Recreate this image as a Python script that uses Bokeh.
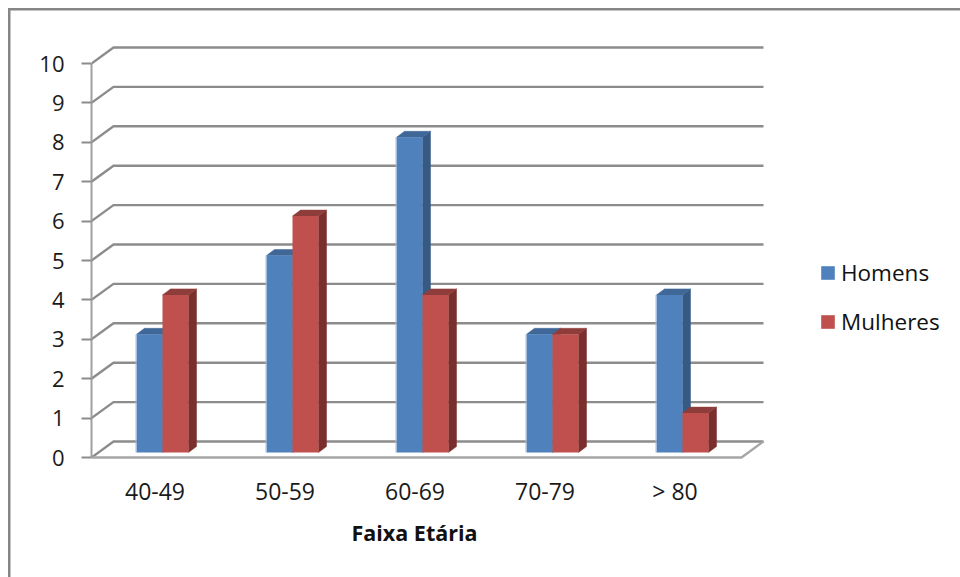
from bokeh.embed import file_html
from bokeh.models import FixedTicker, Legend, LegendItem, Title
from bokeh.plotting import figure
from bokeh.resources import INLINE

categories = ["40-49", "50-59", "60-69", "70-79", "> 80"]
homens = [3, 5, 8, 3, 4]
mulheres = [4, 6, 4, 3, 1]
y_ticks = list(range(0, 11))

FONT = "Open Sans"
GRID = "#8c8c8c"
BORDER = "#868686"

# Pixel scale of the plot frame
PX_PER_CAT = 130.0
PX_PER_VAL = 39.4
LEFT, FLOOR_PX = 91, 457
W, H = 960, 577
BOTTOM_PAD = 3  # keeps the front floor line inside the frame


def cx(px):
    return px / PX_PER_CAT


def vy(px):
    return px / PX_PER_VAL


# Oblique projection of the chart box and of the bars inside it
BOX_DX, BOX_DY = cx(22), vy(16)
BAR_DX, BAR_DY = cx(8), vy(6)
BAR_W = cx(26)
BAR_SHIFT = cx(6)
BAR_BASE = vy(5)

p = figure(
    width=W,
    height=H,
    output_backend="svg",
    toolbar_location=None,
    x_range=(0, (W - LEFT) / PX_PER_CAT),
    y_range=(-vy(BOTTOM_PAD), FLOOR_PX / PX_PER_VAL),
    min_border_left=LEFT,
    min_border_right=0,
    min_border_top=0,
    min_border_bottom=H - FLOOR_PX - BOTTOM_PAD,
    background_fill_color=None,
    border_fill_color=None,
    outline_line_color=None,
)
p.xgrid.visible = False
p.ygrid.visible = False

# Outer chart border, open on the right and at the bottom, behind the transparent canvas
p.styles = {
    "background": (
        f"linear-gradient({BORDER},{BORDER}) 8px 8px / 100% 2.5px no-repeat,"
        f"linear-gradient({BORDER},{BORDER}) 8px 8px / 2.5px 100% no-repeat,"
        "#ffffff"
    )
}

# Gridlines wrap from the front edge onto the back wall
n = len(categories)
p.multi_line(
    xs=[[0, BOX_DX, n + BOX_DX] for _ in y_ticks],
    ys=[[t, t + BOX_DY, t + BOX_DY] for t in y_ticks],
    line_color=GRID,
    line_width=2.4,
)
# Front edge of the floor, closing up to the back wall on the right
p.line(
    x=[0, n, n + BOX_DX],
    y=[0, 0, BOX_DY],
    line_color="#a6a6a6",
    line_width=2.4,
)


def draw_bars(values, offset, front, top, side, edge=None):
    xs = [i + 0.5 + BAR_SHIFT + offset * BAR_W for i in range(n)]
    for x, v in zip(xs, values):
        left, right = x - BAR_W / 2, x + BAR_W / 2
        height = v + BAR_BASE
        p.patch(
            x=[right, right + BAR_DX, right + BAR_DX, right],
            y=[BAR_BASE, BAR_BASE + BAR_DY, height + BAR_DY, height],
            fill_color=side,
            line_color=side,
            line_width=0.5,
        )
        p.patch(
            x=[left, left + BAR_DX, right + BAR_DX, right],
            y=[height, height + BAR_DY, height + BAR_DY, height],
            fill_color=top,
            line_color=top,
            line_width=0.5,
        )
    bars = p.vbar(
        x=xs,
        width=BAR_W,
        bottom=BAR_BASE,
        top=[v + BAR_BASE for v in values],
        fill_color=front,
        line_color=None,
    )
    if edge:
        # Pale highlight down the left side of the column
        edge_x = [x - BAR_W / 2 - cx(0.5) for x in xs]
        p.segment(
            x0=edge_x,
            x1=edge_x,
            y0=[BAR_BASE] * n,
            y1=[v + BAR_BASE for v in values],
            line_color=edge,
            line_width=1,
        )
    return bars


r_h = draw_bars(homens, -0.5, "#4f81bd", "#3f6797", "#375a85", edge="#a3bcdb")
r_m = draw_bars(mulheres, 0.5, "#c0504d", "#8f3d3b", "#7a2f2d")

# Value axis
ya = p.yaxis[0]
ya.ticker = FixedTicker(ticks=y_ticks)
ya.bounds = (0, 10)
ya.axis_line_color = "#a0a0a0"
ya.axis_line_width = 2
ya.major_tick_line_color = GRID
ya.major_tick_line_width = 2
ya.major_tick_in = 0
ya.major_tick_out = 10
ya.minor_tick_line_color = None
ya.major_label_standoff = 17
ya.major_label_text_font = FONT
ya.major_label_text_font_size = "22px"
ya.major_label_text_color = "#1a1a1a"

# Category axis
xa = p.xaxis[0]
xa.ticker = FixedTicker(ticks=[i + 0.5 - cx(1.5) for i in range(n)])
xa.major_label_overrides = {i + 0.5 - cx(1.5): c for i, c in enumerate(categories)}
xa.axis_line_color = None
xa.major_tick_line_color = None
xa.minor_tick_line_color = None
xa.major_label_standoff = 8
xa.major_label_text_font = FONT
xa.major_label_text_font_size = "23px"
xa.major_label_text_color = "#1a1a1a"

# Axis title, shifted along the panel to sit under the middle category
p.add_layout(
    Title(
        text="Faixa Etária",
        align="left",
        offset=260,
        standoff=12,
        text_font=FONT,
        text_font_size="21.5px",
        text_font_style="bold",
        text_color="#111111",
    ),
    "below",
)

legend = Legend(
    items=[
        LegendItem(label="Homens", renderers=[r_h]),
        LegendItem(label="Mulheres", renderers=[r_m]),
    ],
    location=(728, 123),
    orientation="vertical",
    border_line_color=None,
    background_fill_alpha=0,
    padding=0,
    margin=0,
    spacing=18,
    glyph_width=17,
    glyph_height=17,
    label_height=15,
    label_standoff=5,
    label_text_font=FONT,
    label_text_font_size="22.5px",
    label_text_color="#111111",
    label_text_baseline="middle",
)
p.add_layout(legend, "center")

open("out.html", "w").write(file_html(p, INLINE))
